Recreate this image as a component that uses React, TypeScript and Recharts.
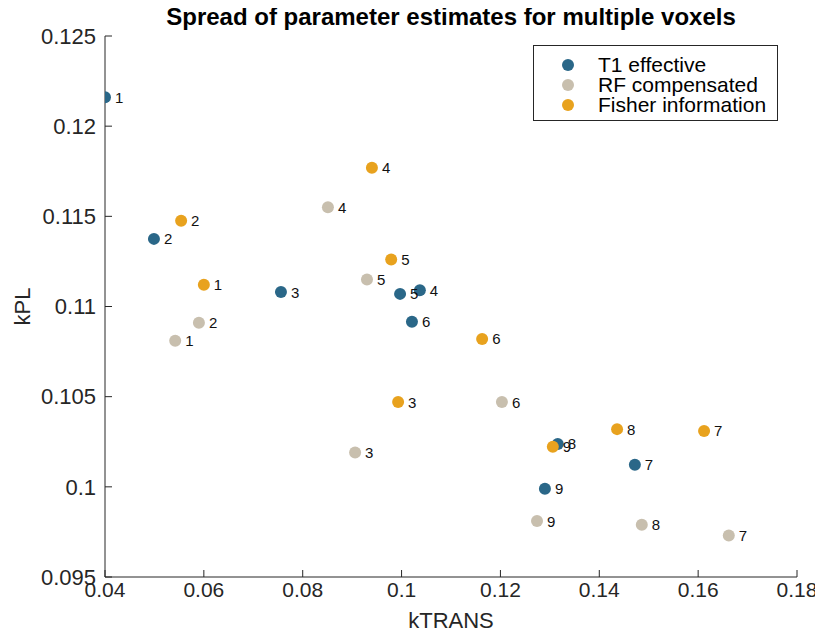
import React from 'react';
import { ScatterChart, Scatter, XAxis, YAxis, LabelList } from 'recharts';

const voxelIds = ['1', '2', '3', '4', '5', '6', '7', '8', '9'];

const t1KTrans = [0.040, 0.0499, 0.0756, 0.1037, 0.0997, 0.1021, 0.1472, 0.1316, 0.1290];
const t1KPL = [0.1216, 0.11375, 0.1108, 0.1109, 0.1107, 0.10915, 0.10122, 0.10238, 0.09989];

const rfKTrans = [0.0542, 0.0590, 0.0906, 0.0851, 0.0930, 0.1203, 0.1662, 0.1486, 0.1274];
const rfKPL = [0.1081, 0.1091, 0.1019, 0.1155, 0.1115, 0.1047, 0.0973, 0.0979, 0.0981];

const fiKTrans = [0.0600, 0.0554, 0.0993, 0.0940, 0.0979, 0.1163, 0.1612, 0.1436, 0.1306];
const fiKPL = [0.1112, 0.11475, 0.1047, 0.1177, 0.1126, 0.1082, 0.1031, 0.1032, 0.10222];

const xTicks = [0.04, 0.06, 0.08, 0.1, 0.12, 0.14, 0.16, 0.18];
const yTicks = [0.095, 0.1, 0.105, 0.11, 0.115, 0.12, 0.125];

const seriesNames = ['T1 effective', 'RF compensated', 'Fisher information'];
const seriesColors = ['#2a6788', '#c8bfae', '#e8a21e'];

const build = (xs: number[], ys: number[]) =>
  xs.map((x, i) => ({ x, y: ys[i], id: voxelIds[i] }));

const seriesData = [
  build(t1KTrans, t1KPL),
  build(rfKTrans, rfKPL),
  build(fiKTrans, fiKPL),
];

const FONT = '"Liberation Sans", Arial, Helvetica, sans-serif';
const AXIS_COLOR = '#262626';
const R = 6;

const fmt = (v: number) => String(Number(v.toFixed(3)));

const LegendBox = () => (
  <div
    style={{
      position: 'absolute',
      left: 525,
      top: 37,
      width: 243,
      height: 74,
      border: '1px solid #262626',
      background: '#fff',
      fontFamily: FONT,
      fontSize: 21,
      color: '#000',
    }}
  >
    {seriesNames.map((n, i) => (
      <div
        key={n}
        style={{
          position: 'absolute',
          left: 0,
          top: 9 + i * 20,
          height: 20,
          lineHeight: '20px',
          whiteSpace: 'nowrap',
        }}
      >
        <span
          style={{
            position: 'absolute',
            left: 28,
            top: 4,
            width: 12,
            height: 12,
            borderRadius: 6,
            background: seriesColors[i],
          }}
        />
        <span style={{ position: 'absolute', left: 64, top: 0 }}>{n}</span>
      </div>
    ))}
  </div>
);

const makeShape = (color: string) => (props: any) => (
  <circle cx={props.cx} cy={props.cy} r={R} fill={color} />
);

export default function App() {
  return (
    <div style={{ position: 'relative', width: 815, height: 631, fontFamily: FONT }}>
      <div
        style={{
          position: 'absolute',
          left: 97,
          width: 692,
          top: 0,
          textAlign: 'center',
          fontWeight: 'bold',
          fontSize: 24,
          lineHeight: '18px',
          color: '#000',
          whiteSpace: 'nowrap',
        }}
      >
        Spread of parameter estimates for multiple voxels
      </div>
      <ScatterChart
        width={815}
        height={631}
        margin={{ top: 28, right: 26, bottom: 7, left: 7 }}
      >
        <XAxis
          type="number"
          dataKey="x"
          domain={[0.04, 0.18]}
          ticks={xTicks}
          tickFormatter={fmt}
          allowDataOverflow
          height={55}
          tickSize={-7}
          tickMargin={12}
          stroke={AXIS_COLOR}
          tick={{ fill: AXIS_COLOR, fontSize: 21, fontFamily: FONT }}
          label={{
            content: (props: any) => {
              const vb = props.viewBox;
              return (
                <text
                  x={vb.x + vb.width / 2}
                  y={vb.y + 51}
                  textAnchor="middle"
                  fill={AXIS_COLOR}
                  fontSize={22}
                  fontFamily={FONT}
                >
                  kTRANS
                </text>
              );
            },
          }}
        />
        <YAxis
          type="number"
          dataKey="y"
          domain={[0.095, 0.125]}
          ticks={yTicks}
          tickFormatter={fmt}
          allowDataOverflow
          width={90}
          tickSize={-7}
          tickMargin={16}
          stroke={AXIS_COLOR}
          tick={{ fill: AXIS_COLOR, fontSize: 22, fontFamily: FONT }}
          label={{
            content: (props: any) => {
              const vb = props.viewBox;
              const cx = 14;
              const cy = vb.y + vb.height / 2;
              return (
                <text
                  x={cx}
                  y={cy}
                  textAnchor="middle"
                  dominantBaseline="central"
                  transform={`rotate(-90, ${cx}, ${cy})`}
                  fill={AXIS_COLOR}
                  fontSize={22}
                  fontFamily={FONT}
                >
                  kPL
                </text>
              );
            },
          }}
        />
        {seriesData.map((d, i) => (
          <Scatter
            key={seriesNames[i]}
            name={seriesNames[i]}
            data={d}
            fill={seriesColors[i]}
            shape={makeShape(seriesColors[i])}
            isAnimationActive={false}
          >
            <LabelList
              dataKey="id"
              content={(p: any) => (
                <text
                  x={p.x + p.width / 2 + R + 4}
                  y={p.y + p.height / 2}
                  dominantBaseline="central"
                  fill="#111"
                  fontSize={15}
                  fontFamily={FONT}
                >
                  {p.value}
                </text>
              )}
            />
          </Scatter>
        ))}
      </ScatterChart>
      <LegendBox />
    </div>
  );
}
